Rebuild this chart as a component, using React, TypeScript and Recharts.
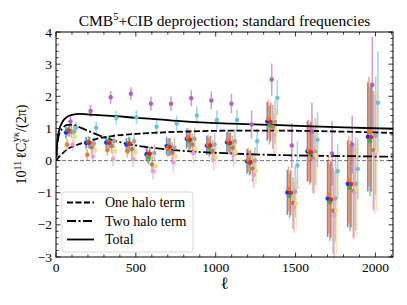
import React from "react";
import { ComposedChart, Line, Scatter, ErrorBar, XAxis, YAxis, ReferenceLine } from "recharts";

const W = 407;
const H = 305;
const M = { top: 32, right: 14, bottom: 48, left: 56 };
const PW = W - M.left - M.right;
const PH = H - M.top - M.bottom;
const FONT = "'Liberation Serif', 'DejaVu Serif', serif";

// bin centres in ell
const ellBins = [94, 220, 346, 472, 598, 724, 850, 976, 1102, 1228, 1354, 1480, 1606, 1732, 1858, 1984];

// measured points, one array per frequency combination
const blueVals = [0.87, 0.55, 0.56, 0.5, 0.2, 0.45, 0.68, 0.47, 0.57, -0.02, 1.22, -0.99, 0.29, -1.18, -0.72, 0.74];
const orangeVals = [0.5, 0.18, 0.33, 0.29, 0.13, 0.38, 0.72, 0.5, 0.62, 0.02, 1.3, -0.88, 0.33, -1.06, -0.6, 0.91];
const greenVals = [0.95, 0.58, 0.6, 0.55, 0.1, 0.42, 0.6, 0.4, 0.52, -0.08, 1.1, -1.1, 0.2, -1.3, -0.85, 0.6];
const redVals = [0.92, 0.55, 0.55, 0.52, 0.21, 0.42, 0.65, 0.47, 0.55, -0.05, 1.2, -1.0, 0.26, -1.21, -0.73, 0.73];
const purpleVals = [1.22, 1.54, 1.97, 2.08, 1.77, 1.77, 1.94, 1.87, 1.77, 1.12, 2.52, 0.47, 0.9, 0.22, 0.5, 2.35];
const brownVals = [0.9, 0.41, 0.45, 0.35, -0.12, 0.25, 0.5, 0.3, 0.4, -0.25, 1.05, -1.32, 0.05, -1.56, -0.95, 0.32];
const pinkVals = [0.5, 0.13, 0.05, 0.05, -0.33, -0.05, 0.24, 0.05, 0.2, -0.44, 0.8, -1.45, 0.0, -1.7, -1.0, 0.2];
const grayVals = [0.9, 0.53, 0.6, 0.6, 0.24, 0.4, 0.68, 0.5, 0.6, 0.0, 1.2, -0.97, 0.28, -1.18, -0.72, 0.78];
const oliveVals = [0.75, 0.32, 0.3, 0.26, -0.17, 0.13, 0.36, 0.1, 0.26, -0.31, 0.91, -1.34, 0.16, -1.56, -0.9, 0.29];
const cyanVals = [1.02, 1.02, 1.33, 1.35, 1.05, 1.15, 1.4, 1.26, 1.26, 0.6, 1.95, -0.15, 0.65, -0.33, -0.26, 1.8];

// error bars (half widths)
const mainErr = [0.18, 0.18, 0.18, 0.2, 0.22, 0.28, 0.3, 0.3, 0.33, 0.38, 0.6, 0.7, 0.95, 1.2, 1.35, 1.7];
const wideErr = [0.2, 0.2, 0.22, 0.24, 0.26, 0.32, 0.34, 0.35, 0.38, 0.42, 0.68, 0.8, 1.05, 1.35, 1.45, 1.85];
const purpleErr = [0.18, 0.2, 0.2, 0.2, 0.22, 0.22, 0.25, 0.28, 0.3, 0.44, 0.5, 0.7, 0.9, 1.0, 0.9, 1.5];
const cyanErr = [0.18, 0.2, 0.22, 0.22, 0.25, 0.25, 0.28, 0.3, 0.32, 0.38, 0.55, 0.75, 0.85, 0.85, 0.95, 1.6];

// horizontal dodge of each series (in ell)
const dodge = [-31.5, -24.5, -17.5, -10.5, -3.5, 3.5, 10.5, 17.5, 24.5, 31.5];

// halo model curves
const thEll = [2, 5, 10, 20, 40, 70, 100, 150, 250, 380, 500, 600, 800, 1100, 1400, 1800, 2110];
const oneHalo = [0.01, 0.03, 0.06, 0.12, 0.22, 0.35, 0.43, 0.52, 0.67, 0.78, 0.83, 0.86, 0.9, 0.93, 0.93, 0.9, 0.86];
const twoHalo = [0.1, 0.35, 0.6, 0.82, 1.0, 1.11, 1.12, 1.03, 0.82, 0.6, 0.47, 0.4, 0.3, 0.22, 0.17, 0.14, 0.12];
const totalHalo = [0.1, 0.38, 0.68, 0.95, 1.2, 1.36, 1.42, 1.45, 1.42, 1.38, 1.33, 1.3, 1.22, 1.15, 1.1, 1.03, 0.99];

const xTicks = [0, 100, 200, 300, 400, 500, 600, 700, 800, 900, 1000, 1100, 1200, 1300, 1400, 1500, 1600, 1700, 1800, 1900, 2000, 2100];
const yTicks = Array.from({ length: 36 }, (_, i) => Math.round((-3 + i * 0.2) * 10) / 10);

const series = [
    { key: "blue", color: "#1c30f2", vals: blueVals, err: mainErr },
    { key: "orange", color: "#f07a18", vals: orangeVals, err: mainErr },
    { key: "green", color: "#36b43a", vals: greenVals, err: mainErr },
    { key: "red", color: "#e8241e", vals: redVals, err: mainErr },
    { key: "purple", color: "#b45ec6", vals: purpleVals, err: purpleErr },
    { key: "brown", color: "#a9806e", vals: brownVals, err: wideErr },
    { key: "pink", color: "#ee9ada", vals: pinkVals, err: wideErr },
    { key: "gray", color: "#a4a4a4", vals: grayVals, err: wideErr },
    { key: "olive", color: "#ebdf78", vals: oliveVals, err: wideErr },
    { key: "cyan", color: "#66c2d8", vals: cyanVals, err: cyanErr },
];

const curves = [
    { key: "one", vals: oneHalo, dash: "6 2.5", label: "One halo term" },
    { key: "two", vals: twoHalo, dash: "9 2.5 2 2.5", label: "Two halo term" },
    { key: "tot", vals: totalHalo, dash: undefined, label: "Total" },
];

const fmtY = (v: number) => (v < 0 ? "\u2212" + Math.abs(v) : String(v));

// ticks point inwards, mirrored on the top/right edges
const XTick = (p: any) => {
    const { x, y, payload } = p;
    const v = payload.value;
    const major = v % 500 === 0;
    const len = major ? 4.5 : 2.5;
    return (
        <g>
            <line x1={x} x2={x} y1={y} y2={y - len} stroke="#000" strokeWidth={0.8} />
            <line x1={x} x2={x} y1={y - PH} y2={y - PH + len} stroke="#000" strokeWidth={0.8} />
            {major && (
                <text x={x} y={y + 15} textAnchor="middle" fontFamily={FONT} fontSize={13.5} fill="#000">
                    {v}
                </text>
            )}
        </g>
    );
};

const YTick = (p: any) => {
    const { x, y, payload } = p;
    const v = payload.value;
    const major = Math.abs(v - Math.round(v)) < 1e-6;
    const len = major ? 4.5 : 2.5;
    return (
        <g>
            <line x1={x} x2={x + len} y1={y} y2={y} stroke="#000" strokeWidth={0.8} />
            <line x1={x + PW} x2={x + PW - len} y1={y} y2={y} stroke="#000" strokeWidth={0.8} />
            {major && (
                <text x={x - 4} y={y + 4.5} textAnchor="end" fontFamily={FONT} fontSize={13.5} fill="#000">
                    {fmtY(Math.round(v))}
                </text>
            )}
        </g>
    );
};

export default function App() {
    const theory = thEll.map((l, i) => ({ x: l, one: oneHalo[i], two: twoHalo[i], tot: totalHalo[i] }));

    return (
        <div style={{ position: "absolute", left: 0, top: 0, width: W, height: H, background: "#fff" }}>
            <ComposedChart width={W} height={H} margin={{ top: M.top, right: M.right, bottom: 0, left: 0 }}>
                <XAxis
                    xAxisId="b"
                    type="number"
                    dataKey="x"
                    domain={[0, 2110]}
                    ticks={xTicks}
                    interval={0}
                    tick={<XTick />}
                    tickLine={false}
                    tickSize={0}
                    tickMargin={0}
                    height={M.bottom}
                    axisLine={false}
                    allowDataOverflow
                />
                <YAxis
                    yAxisId="l"
                    type="number"
                    domain={[-3, 4]}
                    ticks={yTicks}
                    interval={0}
                    tick={<YTick />}
                    tickLine={false}
                    tickSize={0}
                    tickMargin={0}
                    width={M.left}
                    axisLine={false}
                    allowDataOverflow
                />

                <ReferenceLine xAxisId="b" yAxisId="l" y={0} stroke="#555" strokeWidth={0.8} strokeDasharray="4 2" />

                {series.map((s, si) => (
                    <Scatter
                        key={s.key}
                        xAxisId="b"
                        yAxisId="l"
                        data={ellBins.map((l, k) => ({ x: l + dodge[si], y: s.vals[k], e: s.err[k] }))}
                        dataKey="y"
                        fill={s.color}
                        isAnimationActive={false}
                        shape={(p: any) => <circle cx={p.cx} cy={p.cy} r={2.2} fill={s.color} />}
                    >
                        <ErrorBar
                            dataKey="e"
                            direction="y"
                            width={0}
                            stroke={s.color}
                            strokeWidth={1.6}
                            strokeOpacity={0.6}
                            isAnimationActive={false}
                        />
                    </Scatter>
                ))}

                {curves.map((c) => (
                    <Line
                        key={c.key}
                        xAxisId="b"
                        yAxisId="l"
                        data={theory}
                        dataKey={c.key}
                        type="monotone"
                        stroke="#000"
                        strokeWidth={1.8}
                        strokeDasharray={c.dash}
                        dot={false}
                        activeDot={false}
                        isAnimationActive={false}
                    />
                ))}
            </ComposedChart>

            {/* frame, titles and legend */}
            <svg width={W} height={H} style={{ position: "absolute", left: 0, top: 0, pointerEvents: "none" }}>
                <rect x={M.left} y={M.top} width={PW} height={PH} fill="none" stroke="#000" strokeWidth={1} />
                <text x={M.left + PW / 2} y={26} textAnchor="middle" fontFamily={FONT} fontSize={15.5} fill="#000">
                    CMB<tspan dy={-6} fontSize={10.5}>5</tspan>
                    <tspan dy={6}>+CIB deprojection; standard frequencies</tspan>
                </text>
                <text x={M.left + PW / 2} y={289} textAnchor="middle" fontFamily={FONT} fontSize={17} fill="#000">
                    ℓ
                </text>
                <text
                    transform={`translate(26, ${M.top + PH / 2}) rotate(-90)`}
                    textAnchor="middle"
                    fontFamily={FONT}
                    fontSize={14}
                    fill="#000"
                >
                    10<tspan dy={-5} fontSize={10}>11</tspan>
                    <tspan dy={5} dx={2}>ℓC</tspan>
                    <tspan dy={3} fontSize={10}>ℓ</tspan>
                    <tspan dy={-10} dx={-4} fontSize={10}>yκ</tspan>
                    <tspan dy={7}>/(2π)</tspan>
                </text>

                <rect x={62} y={192} width={131} height={60} rx={3} fill="#fff" fillOpacity={0.85} stroke="#d0d0d0" strokeWidth={0.8} />
                {curves.map((c, i) => (
                    <g key={c.key}>
                        <line
                            x1={67}
                            x2={94}
                            y1={202.5 + i * 18.5}
                            y2={202.5 + i * 18.5}
                            stroke="#000"
                            strokeWidth={1.8}
                            strokeDasharray={c.dash}
                        />
                        <text x={105} y={207 + i * 18.5} fontFamily={FONT} fontSize={14} fill="#000">
                            {c.label}
                        </text>
                    </g>
                ))}
            </svg>
        </div>
    );
}
